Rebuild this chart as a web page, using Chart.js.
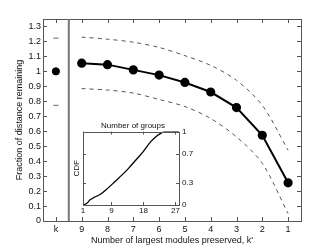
<!DOCTYPE html>
<html>
<head>
<meta charset="utf-8">
<script src="https://cdn.jsdelivr.net/npm/chart.js@4"></script>
<style>
  body { margin: 0; background: #fff; }
  #wrap { position: relative; width: 333px; height: 251px; }
  #main { position: absolute; left: 0; top: 0; }
  #inset { position: absolute; left: 63px; top: 112px; }
</style>
</head>
<body>
<div id="wrap">
  <canvas id="main" width="333" height="251"></canvas>
  <canvas id="inset" width="140" height="110"></canvas>
</div>
<script>
// categories on the main x axis: k first, then number of modules kept
const catLabels = ["k", "9", "8", "7", "6", "5", "4", "3", "2", "1"]
const keptModules = ["9", "8", "7", "6", "5", "4", "3", "2", "1"]
// mean fraction of distance remaining and the dashed band around it
const meanFrac = [1.055, 1.045, 1.01, 0.975, 0.926, 0.862, 0.758, 0.573, 0.255]
const upperFrac = [1.229, 1.215, 1.195, 1.16, 1.105, 1.04, 0.94, 0.773, 0.473]
const lowerFrac = [0.885, 0.875, 0.855, 0.812, 0.765, 0.685, 0.562, 0.385, 0.05]
// reference value at k
const kMean = 1.0
const kUpper = 1.222
const kLower = 0.773
const yTicks = [0, 0.1, 0.2, 0.3, 0.4, 0.5, 0.6, 0.7, 0.8, 0.9, 1, 1.1, 1.2, 1.3]

// inset: CDF of number of groups
const groupCounts = [1, 2, 3, 4, 6, 8, 10, 12, 14, 16, 18, 20, 22, 23, 24, 28]
const cdfValues = [0, 0.02, 0.07, 0.1, 0.15, 0.23, 0.32, 0.41, 0.51, 0.62, 0.73, 0.86, 0.95, 0.98, 1.0, 1.0]
const insetXTicks = [1, 9, 18, 27]
const insetYTicks = [0, 0.3, 0.7, 1]

const police = "'Liberation Sans', Arial, Helvetica, sans-serif"
Chart.defaults.font.family = police
Chart.defaults.color = "#111"
Chart.defaults.animation = false

// position sur l'axe x : k = 0, puis 9..1 = 1..9
function posCat(lab) {
    return catLabels.indexOf(lab)
}

// ticks vers l'intérieur sur les 4 côtés + cadre (style matlab)
const inwardTicks = {
    id: "inwardTicks",
    afterDraw(chart, args, opts) {
        const ctx = chart.ctx
        const a = chart.chartArea
        const len = opts.len || 4
        ctx.save()
        ctx.strokeStyle = opts.color || "#555"
        ctx.lineWidth = 1
        ctx.beginPath()
        for (let id of opts.xScales || []) {
            let sc = chart.scales[id]
            for (let t of sc.ticks) {
                let x = Math.round(sc.getPixelForValue(t.value)) + 0.5
                ctx.moveTo(x, a.bottom); ctx.lineTo(x, a.bottom - len)
                ctx.moveTo(x, a.top); ctx.lineTo(x, a.top + len)
            }
        }
        for (let id of opts.yScales || []) {
            let sc = chart.scales[id]
            for (let t of sc.ticks) {
                let y = Math.round(sc.getPixelForValue(t.value)) + 0.5
                ctx.moveTo(a.left, y); ctx.lineTo(a.left + len, y)
                ctx.moveTo(a.right, y); ctx.lineTo(a.right - len, y)
            }
        }
        ctx.stroke()
        ctx.strokeRect(Math.round(a.left) + 0.5, Math.round(a.top) + 0.5, Math.round(a.right - a.left), Math.round(a.bottom - a.top))
        // séparation entre k et le reste
        if (opts.separator !== undefined) {
            let x = chart.scales.x.getPixelForValue(opts.separator)
            ctx.strokeStyle = "#777"
            ctx.lineWidth = 2
            ctx.beginPath()
            ctx.moveTo(x, a.top); ctx.lineTo(x, a.bottom)
            ctx.stroke()
        }
        ctx.restore()
    }
}

new Chart(document.getElementById("main"), {
    type: "line",
    plugins: [inwardTicks],
    data: {
        datasets: [
            {
                label: "upper",
                data: keptModules.map((m, i) => ({x: posCat(m), y: upperFrac[i]})),
                borderColor: "#555",
                borderWidth: 1,
                borderDash: [4, 4],
                pointRadius: 0,
                tension: 0.3
            },
            {
                label: "lower",
                data: keptModules.map((m, i) => ({x: posCat(m), y: lowerFrac[i]})),
                borderColor: "#555",
                borderWidth: 1,
                borderDash: [4, 4],
                pointRadius: 0,
                tension: 0.3
            },
            {
                label: "mean",
                data: keptModules.map((m, i) => ({x: posCat(m), y: meanFrac[i]})),
                borderColor: "#000",
                borderWidth: 2,
                pointRadius: 3.6,
                pointBackgroundColor: "#000",
                pointBorderColor: "#000",
                tension: 0
            },
            {
                label: "k",
                data: [{x: posCat("k"), y: kMean}],
                showLine: false,
                pointRadius: 3.6,
                pointBackgroundColor: "#000",
                pointBorderColor: "#000"
            },
            {
                label: "k band",
                data: [{x: posCat("k"), y: kUpper}, {x: posCat("k"), y: kLower}],
                showLine: false,
                pointStyle: "line",
                pointRadius: 2.6,
                pointBorderColor: "#666",
                pointBorderWidth: 1
            }
        ]
    },
    options: {
        responsive: false,
        layout: { padding: { top: 19, right: 32, left: 0, bottom: 0 } },
        scales: {
            x: {
                type: "linear",
                min: -0.5,
                max: 9.5,
                afterBuildTicks: sc => { sc.ticks = catLabels.map((l, i) => ({value: i})) },
                afterFit: sc => { sc.height = 30 },
                ticks: {
                    font: { size: 9 },
                    padding: 3,
                    callback: v => catLabels[v]
                },
                grid: { display: false, drawTicks: false },
                border: { display: false },
                title: {
                    display: true,
                    text: "Number of largest modules preserved, k'",
                    font: { size: 9 },
                    padding: { top: 0, bottom: 5 }
                }
            },
            y: {
                min: 0,
                max: 1.35,
                afterBuildTicks: sc => { sc.ticks = yTicks.map(v => ({value: v})) },
                afterFit: sc => { sc.width = 43 },
                ticks: {
                    font: { size: 9 },
                    padding: 2,
                    callback: v => String(Number(v.toFixed(1)))
                },
                grid: { display: false, drawTicks: false },
                border: { display: false },
                title: {
                    display: true,
                    text: "Fraction of distance remaining",
                    font: { size: 9 },
                    padding: { top: 14, bottom: 0 }
                }
            }
        },
        plugins: {
            legend: { display: false },
            tooltip: { enabled: false },
            inwardTicks: { xScales: ["x"], yScales: ["y"], len: 4, separator: 0.5 }
        }
    }
})

// petit graphe en incrustation
new Chart(document.getElementById("inset"), {
    type: "line",
    plugins: [inwardTicks],
    data: {
        datasets: [{
            label: "CDF",
            data: groupCounts.map((g, i) => ({x: g, y: cdfValues[i]})),
            borderColor: "#000",
            borderWidth: 1.3,
            pointRadius: 0,
            tension: 0.3
        }]
    },
    options: {
        responsive: false,
        layout: { padding: 0 },
        scales: {
            x: {
                type: "linear",
                min: 1,
                max: 28,
                afterBuildTicks: sc => { sc.ticks = insetXTicks.map(v => ({value: v})) },
                afterFit: sc => { sc.height = 17 },
                ticks: { font: { size: 8 }, padding: 1 },
                grid: { display: false, drawTicks: false },
                border: { display: false }
            },
            y: {
                position: "right",
                min: 0,
                max: 1,
                afterBuildTicks: sc => { sc.ticks = insetYTicks.map(v => ({value: v})) },
                afterFit: sc => { sc.width = 24 },
                ticks: { font: { size: 8 }, padding: 3, callback: v => String(v) },
                grid: { display: false, drawTicks: false },
                border: { display: false }
            },
            yl: {
                position: "left",
                min: 0,
                max: 1,
                afterFit: sc => { sc.width = 20 },
                ticks: { display: false },
                grid: { display: false, drawTicks: false },
                border: { display: false },
                title: {
                    display: true,
                    text: "CDF",
                    font: { size: 8 },
                    padding: { top: 9, bottom: 0 }
                }
            }
        },
        plugins: {
            legend: { display: false },
            tooltip: { enabled: false },
            title: {
                display: true,
                text: "Number of groups",
                font: { size: 8, weight: "normal" },
                color: "#111",
                padding: { top: 9, bottom: 1 }
            },
            inwardTicks: { xScales: ["x"], yScales: ["y"], len: 3 }
        }
    }
})
</script>
</body>
</html>
